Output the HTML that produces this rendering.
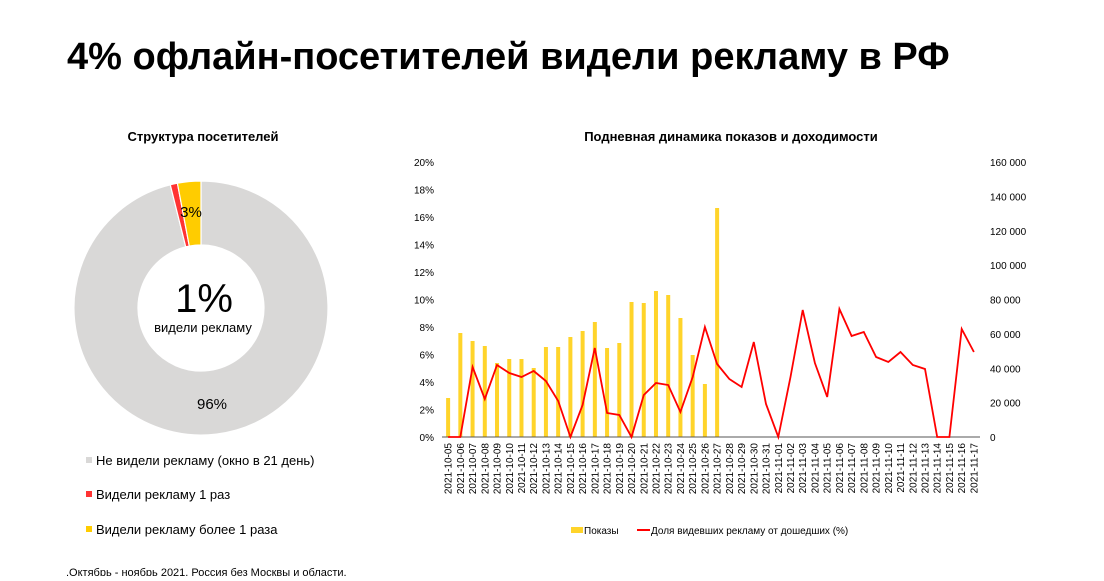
<!DOCTYPE html>
<html><head><meta charset="utf-8"><style>
body{margin:0;width:1104px;height:576px;background:#fff;overflow:hidden;font-family:"Liberation Sans",Arial,sans-serif;}
</style></head><body>
<svg width="1104" height="576" xmlns="http://www.w3.org/2000/svg" font-family="Liberation Sans, Arial, sans-serif">
<text x="67" y="69" font-size="38" font-weight="bold" fill="#000">4% офлайн-посетителей видели рекламу в РФ</text>
<text x="203" y="141" font-size="13" font-weight="bold" text-anchor="middle">Структура посетителей</text>
<text x="731" y="141" font-size="13" font-weight="bold" text-anchor="middle">Подневная динамика показов и доходимости</text>
<g id="donut"></g>
<text x="191" y="217" font-size="15" text-anchor="middle">3%</text>
<text x="212" y="409" font-size="15" text-anchor="middle">96%</text>
<text x="204" y="312" font-size="40" text-anchor="middle">1%</text>
<text x="203" y="332" font-size="13" text-anchor="middle">видели рекламу</text>
<rect x="86" y="457" width="6" height="6" fill="#d9d8d7"/><text x="96" y="465" font-size="13">Не видели рекламу (окно в 21 день)</text>
<rect x="86" y="491" width="6" height="6" fill="#ff3333"/><text x="96" y="499" font-size="13">Видели рекламу 1 раз</text>
<rect x="86" y="526" width="6" height="6" fill="#ffcc00"/><text x="96" y="534" font-size="13">Видели рекламу более 1 раза</text>
<text x="66" y="576" font-size="11">.Октябрь - ноябрь 2021. Россия без Москвы и области.</text>
<g id="chart"></g>
<rect x="571" y="527" width="12" height="6" fill="#ffd42a"/><text x="584" y="534" font-size="10">Показы</text>
<line x1="637" y1="530" x2="650" y2="530" stroke="#ff0000" stroke-width="2"/><text x="651" y="534" font-size="10">Доля видевших рекламу от дошедших (%)</text>
</svg>
<script>
const NS="http://www.w3.org/2000/svg";
function el(p,t,a,txt){const e=document.createElementNS(NS,t);for(const k in a)e.setAttribute(k,a[k]);if(txt!==undefined)e.textContent=txt;p.appendChild(e);return e;}
const d=document.getElementById('donut');const cx=201,cy=308,R=127,r=63;
function arc(a0,a1,fill){
 const p=(a,rr)=>[cx+rr*Math.sin(a*Math.PI/180),cy-rr*Math.cos(a*Math.PI/180)];
 const large=((a1-a0+360)%360)>180?1:0;
 const [x0,y0]=p(a0,R),[x1,y1]=p(a1,R),[x2,y2]=p(a1,r),[x3,y3]=p(a0,r);
 el(d,'path',{d:`M${x0} ${y0}A${R} ${R} 0 ${large} 1 ${x1} ${y1}L${x2} ${y2}A${r} ${r} 0 ${large} 0 ${x3} ${y3}Z`,fill,stroke:'#fff','stroke-width':1.2});
}
arc(0,346,'#d9d8d7');arc(346,349.3,'#ff3333');arc(349.3,360,'#ffcc00');
const c=document.getElementById('chart');const x0=442,x1=980,y0=437,yTop=162;const n=44,w=(x1-x0)/n;
for(let i=0;i<=10;i++){const y=y0-(y0-yTop)*i/10;el(c,'text',{x:434,y:y+4,'font-size':10,'text-anchor':'end'},(2*i)+'%');}
for(let i=0;i<=8;i++){const y=y0-(y0-yTop)*i/8;el(c,'text',{x:990,y:y+4,'font-size':10},i==0?'0':(20*i)+' 000');}
const bars=[398,333,341,346,363,359,359,368,347,347,337,331,322,348,343,302,303,291,295,318,355,384,208];
bars.forEach((t,i)=>{const cxp=x0+w*(i+0.5);el(c,'rect',{x:cxp-2,y:t,width:4,height:y0-t,fill:'#ffd42a'});});
el(c,'line',{x1:x0,y1:y0,x2:x1,y2:y0,stroke:'#555','stroke-width':1});
const ly=[437,437,367,399,365,373,377,371,381,401,437,405,348,413,415,437,395,383,385,412,377,327,364,379,387,342,404,437,377,310,363,397,309,336,332,357,362,352,365,369,437,437,329,352];
el(c,'polyline',{points:ly.map((y,i)=>(x0+w*(i+0.5)).toFixed(1)+','+y).join(' '),fill:'none',stroke:'#ff0000','stroke-width':1.8,'stroke-linejoin':'miter'});
for(let i=0;i<n;i++){const m=i<27?10:11,dd=i<27?i+5:i-26;const s='2021-'+m+'-'+String(dd).padStart(2,'0');
 const xx=x0+w*(i+0.5)+3.5;el(c,'text',{x:xx,y:443,'font-size':10,'text-anchor':'end',transform:`rotate(-90 ${xx} 443)`},s);}
</script>
</body></html>
